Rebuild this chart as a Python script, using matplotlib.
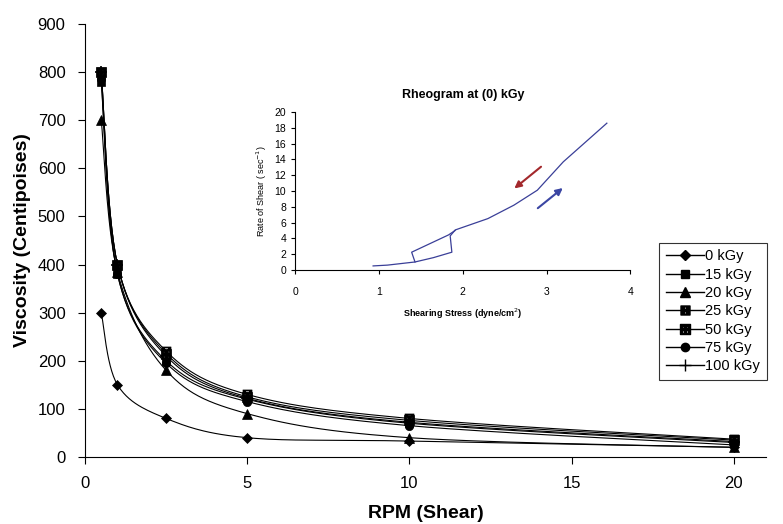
import numpy as np
import matplotlib
matplotlib.use("Agg")
import matplotlib.pyplot as plt

plt.rcParams['font.family'] = ['Liberation Sans', 'DejaVu Sans']

rpm = [0.5, 1, 2.5, 5, 10, 20]
labels = ['0 kGy', '15 kGy', '20 kGy', '25 kGy', '50 kGy', '75 kGy', '100 kGy']
v0 = [300, 150, 80, 40, 33, 20]
v15 = [780, 380, 200, 120, 70, 30]
v20 = [700, 385, 180, 90, 40, 20]
v25 = [800, 400, 220, 130, 80, 37]
v50 = [800, 400, 215, 125, 76, 35]
v75 = [785, 380, 195, 115, 65, 25]
v100 = [800, 400, 210, 122, 72, 32]
series = [v0, v15, v20, v25, v50, v75, v100]
markers = ['D', 's', '^', r'$\boxtimes$', r'$\boxplus$', 'o', '+']
msizes = [5, 6, 7, 6.5, 6.5, 6, 9]

# rheogram (inset)
up_x = [0.93, 1.1, 1.43, 1.65, 1.87, 1.85, 1.91, 2.3, 2.61, 2.89, 3.2, 3.72]
up_y = [0.5, 0.6, 1.0, 1.55, 2.24, 4.3, 5.06, 6.5, 8.2, 10.1, 13.7, 18.6]
down_x = [1.91, 1.83, 1.39, 1.43]
down_y = [5.0, 4.43, 2.24, 1.0]


def smooth(x, y, sx, sy, n=30):
    # catmull-rom through the points, done in scaled coords like excel does
    p = np.column_stack([np.array(x) / sx, np.array(y) / sy])
    p = np.vstack([p[0], p, p[-1]])
    out = []
    for i in range(1, len(p) - 2):
        p0, p1, p2, p3 = p[i - 1], p[i], p[i + 1], p[i + 2]
        t = np.linspace(0, 1, n)[:, None]
        c = 0.5 * ((2 * p1) + (-p0 + p2) * t + (2 * p0 - 5 * p1 + 4 * p2 - p3) * t**2
                   + (-p0 + 3 * p1 - 3 * p2 + p3) * t**3)
        out.append(c)
    out = np.vstack(out)
    return out[:, 0] * sx, out[:, 1] * sy


fig = plt.figure(figsize=(7.83, 5.24), dpi=100)
ax = fig.add_axes([0.1086, 0.128, 0.87, 0.826])

for lab, vals, m, ms in zip(labels, series, markers, msizes):
    sx_, sy_ = smooth(rpm, vals, 21 / 0.87, 900 / 0.826 * 0.67)
    ax.plot(sx_, sy_, color='black', lw=0.8)
    ax.plot(rpm, vals, linestyle='none', marker=m, color='black', ms=ms, mew=1.2 if m == '+' else 0.5)
    ax.plot([], [], color='black', lw=1, marker=m, ms=ms, label=lab)

ax.set_xlim(0, 21)
ax.set_ylim(0, 900)
ax.set_xticks([0, 5, 10, 15, 20])
ax.set_yticks(range(0, 901, 100))
ax.spines['top'].set_visible(False)
ax.spines['right'].set_visible(False)
ax.tick_params(direction='out', labelsize=12, length=5, pad=9)
ax.set_xlabel('RPM (Shear)', fontsize=14, fontweight='bold', labelpad=10)
ax.set_ylabel('Viscosity (Centipoises)', fontsize=14, fontweight='bold', labelpad=5)

leg = ax.legend(loc='upper left', bbox_to_anchor=(0.843, 0.495), fontsize=10.5, frameon=True,
                fancybox=False, edgecolor='black', handlelength=2.6, borderpad=0.45,
                labelspacing=0.3, handletextpad=0.1, borderaxespad=0)
leg.get_frame().set_linewidth(0.8)

ins = fig.add_axes([0.377, 0.485, 0.428, 0.301])
line_c = '#3a3f98'
ins.plot(up_x, up_y, color=line_c, lw=0.9)
ins.plot(down_x, down_y, color=line_c, lw=0.9)
ins.annotate('', xy=(2.59, 10.1), xytext=(2.96, 13.3),
             arrowprops=dict(arrowstyle='-|>', color='#a3282c', lw=1.5, mutation_scale=10))
ins.annotate('', xy=(3.22, 10.6), xytext=(2.87, 7.6),
             arrowprops=dict(arrowstyle='-|>', color='#3b46a3', lw=1.5, mutation_scale=10))
ins.set_xlim(0, 4)
ins.set_ylim(0, 20)
ins.set_xticks([0, 1, 2, 3, 4])
ins.set_yticks(range(0, 21, 2))
ins.spines['top'].set_visible(False)
ins.spines['right'].set_visible(False)
ins.patch.set_alpha(0)
ins.tick_params(direction='out', labelsize=7.5, length=3)
ins.tick_params(axis='x', pad=9)
ins.set_title('Rheogram at (0) kGy', fontsize=9, fontweight='bold', pad=10)
ins.set_xlabel('Shearing Stress (dyne/cm$^2$)', fontsize=6.5, fontweight='bold', labelpad=7)
ins.set_ylabel('Rate of Shear ( sec$^{-1}$)', fontsize=6.5)

fig.savefig('out.png', dpi=100)
